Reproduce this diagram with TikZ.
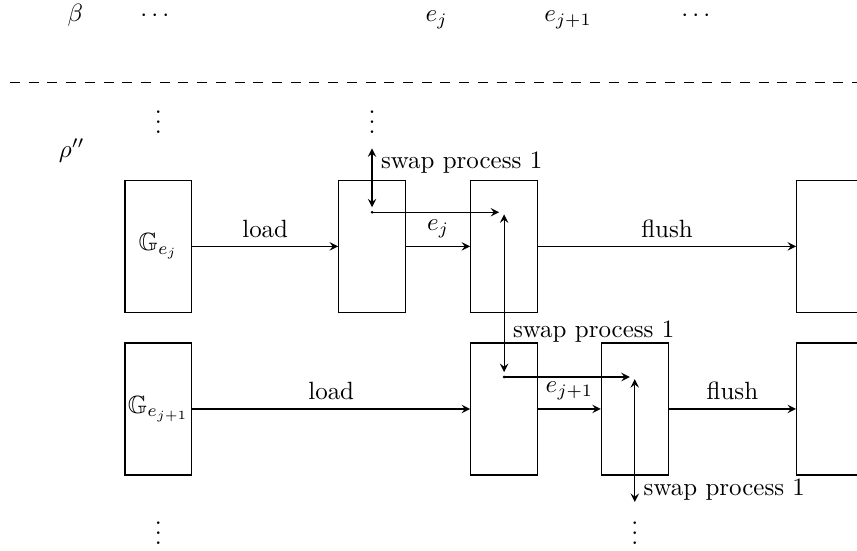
\documentclass[tikz,border=0pt]{standalone}
\usepackage{amsmath}
\usepackage{amssymb}
\usepackage{xcolor}
\usepackage{tikz}
\usetikzlibrary{arrows.meta}

\begin{document}
\begin{tikzpicture}[->, >=stealth, auto, line width=0.5pt,
    buf/.style={draw, rectangle, minimum width=0.94cm, minimum height=1.86cm, inner sep=0pt}]
    \useasboundingbox (0,0) rectangle (12.07,7.75);
    % schedule on top
    \node[anchor=base] (beta) at (1.06,7.44) {$\beta$};
    \node[anchor=base] (dl) at (2.21,7.44) {$\cdots$};
    \node[anchor=base] (ej) at (6.15,7.44) {$e_j$};
    \node[anchor=base] (ejj) at (8.00,7.44) {$e_{j+1}$};
    \node[anchor=base] (dr) at (9.83,7.44) {$\cdots$};
    \coordinate (sepL) at (0.14,6.59);
    \coordinate (sepR) at (12.07,6.59);
    \draw[-, dash pattern=on 4pt off 3.5pt] (sepL) -- (sepR);
    \node (rho) at (1.01,5.63) {$\rho''$};
    \node (vt1) at (2.23,6.14) {$\vdots$};
    \node (vt2) at (5.24,6.14) {$\vdots$};
    \node (vb1) at (2.23,0.35) {$\vdots$};
    \node (vb2) at (8.94,0.35) {$\vdots$};
    % row of e_j
    \node[buf] (G1) at (2.23,4.28) {$\mathbb{G}_{e_j}$};
    \node[buf] (P1) at (5.24,4.28) {};
    \node[buf] (Q1) at (7.10,4.28) {};
    \node[buf] (F1) at (11.69,4.28) {};
    \draw (G1) -- node[above] {load} (P1);
    \draw (P1) -- node[above] {$e_j$} (Q1);
    \draw (Q1) -- node[above] {flush} (F1);
    % row of e_{j+1}
    \node[buf] (G2) at (2.23,1.99) {$\mathbb{G}_{e_{j+1}}$};
    \node[buf] (Q2) at (7.10,1.99) {};
    \node[buf] (R2) at (8.94,1.99) {};
    \node[buf] (F2) at (11.69,1.99) {};
    \draw (G2) -- node[above] {load} (Q2);
    \draw (Q2) -- node[above] {$e_{j+1}$} (R2);
    \draw (R2) -- node[above] {flush} (F2);
    % swaps
    \coordinate (t1) at (5.24,5.66);
    \coordinate (s1) at (5.24,4.76);
    \coordinate (s2) at (7.10,4.76);
    \coordinate (s3) at (7.10,2.44);
    \coordinate (s4) at (8.94,2.44);
    \coordinate (t2) at (8.94,0.68);
    \fill (s1) circle (0.6pt);
    \fill (s3) circle (0.6pt);
    \draw[<->, shorten >=0.07cm] (t1) -- (s1);
    \draw[shorten >=0.07cm] (s1) -- (s2);
    \draw[<->, shorten <=0.07cm, shorten >=0.03cm] (s3) -- (s2);
    \draw[shorten >=0.07cm] (s3) -- (s4);
    \draw[<->, shorten <=0.03cm] (s4) -- (t2);
    \node[anchor=west] (sw1) at (5.24,5.46) {swap process 1};
    \node[anchor=west] (sw2) at (7.10,3.08) {swap process 1};
    \node[anchor=west] (sw3) at (8.94,0.86) {swap process 1};
\end{tikzpicture}
\end{document}
